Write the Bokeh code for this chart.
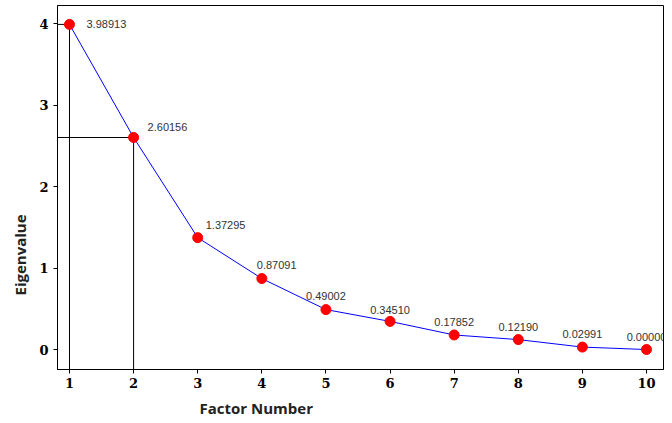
from bokeh.plotting import figure
from bokeh.models import ColumnDataSource, Range1d, FixedTicker, Title, LabelSet
from bokeh.core.properties import value
from bokeh.embed import file_html
from bokeh.resources import INLINE

# ---- data ----
factors = [1, 2, 3, 4, 5, 6, 7, 8, 9, 10]
eigenvalues = [3.98913, 2.60156, 1.37295, 0.87091, 0.49002, 0.34510, 0.17852, 0.12190, 0.02991, 0.00000]
value_labels = ["3.98913", "2.60156", "1.37295", "0.87091", "0.49002",
                "0.34510", "0.17852", "0.12190", "0.02991", "0.00000"]
y_ticks = [0, 1, 2, 3, 4]
x_ticks = factors

# label placement (screen px) relative to each point
label_dx = [17, 14, 8, -5, 0, 0, 0, 0, 0, 0]
label_dy = [0, 10, 13, 14, 14, 11, 13, 13, 13, 13]
label_align = ["left", "left", "left", "left", "center", "center", "center", "center", "center", "center"]

y_start, y_end = -0.245, 4.221
x_start, x_end = 0.813, 10.265

p = figure(width=670, height=423, output_backend="svg", toolbar_location=None,
           x_range=Range1d(x_start, x_end), y_range=Range1d(y_start, y_end),
           min_border_left=57, min_border_right=7, min_border_top=5, min_border_bottom=54)

p.background_fill_color = "white"
p.border_fill_color = "white"
p.outline_line_color = "black"
p.outline_line_width = 1
p.xgrid.visible = False
p.ygrid.visible = False

for ax in (p.xaxis, p.yaxis):
    ax.axis_line_color = "black"
    ax.major_tick_line_color = "black"
    ax.major_tick_in = 0
    ax.major_tick_out = 4
    ax.minor_tick_line_color = None
    ax.major_label_text_font = "DejaVu Serif"
    ax.major_label_text_font_style = "bold"
    ax.major_label_text_font_size = "13px"
    ax.major_label_text_color = "black"

p.xaxis.ticker = FixedTicker(ticks=x_ticks)
p.yaxis.ticker = FixedTicker(ticks=y_ticks)
p.xaxis.major_label_standoff = 4
p.yaxis.major_label_standoff = 5

# reference lines for factors 1 and 2
ref_x = factors[:2]
ref_y = eigenvalues[:2]
p.segment(x0=ref_x, y0=ref_y, x1=ref_x, y1=[y_start] * 2, line_color="black", line_width=1)
p.segment(x0=[x_start] * 2, y0=ref_y, x1=ref_x, y1=ref_y, line_color="black", line_width=1)

src = ColumnDataSource(dict(x=factors, y=eigenvalues, lab=value_labels,
                            dx=label_dx, dy=label_dy, al=label_align))
p.line("x", "y", source=src, line_color="#0000ff", line_width=1)
p.scatter("x", "y", source=src, size=10, marker="circle", fill_color="#ff0000", line_color="#ff0000")
labels = LabelSet(x="x", y="y", text="lab", source=src, x_offset="dx", y_offset="dy",
                  text_align="al", text_baseline="middle", text_font=value("Liberation Sans"),
                  text_font_size="11px", text_color="#333333")
p.add_layout(labels)

xt = Title(text="Factor Number", align="left", offset=142, standoff=10,
           text_font="Open Sans", text_font_style="bold", text_font_size="15px", text_color="#222222")
p.add_layout(xt, "below")
yt = Title(text="Eigenvalue", align="left", offset=74, standoff=14,
           text_font="Open Sans", text_font_style="bold", text_font_size="15px", text_color="#222222")
p.add_layout(yt, "left")

open("out.html", "w").write(file_html(p, INLINE))
